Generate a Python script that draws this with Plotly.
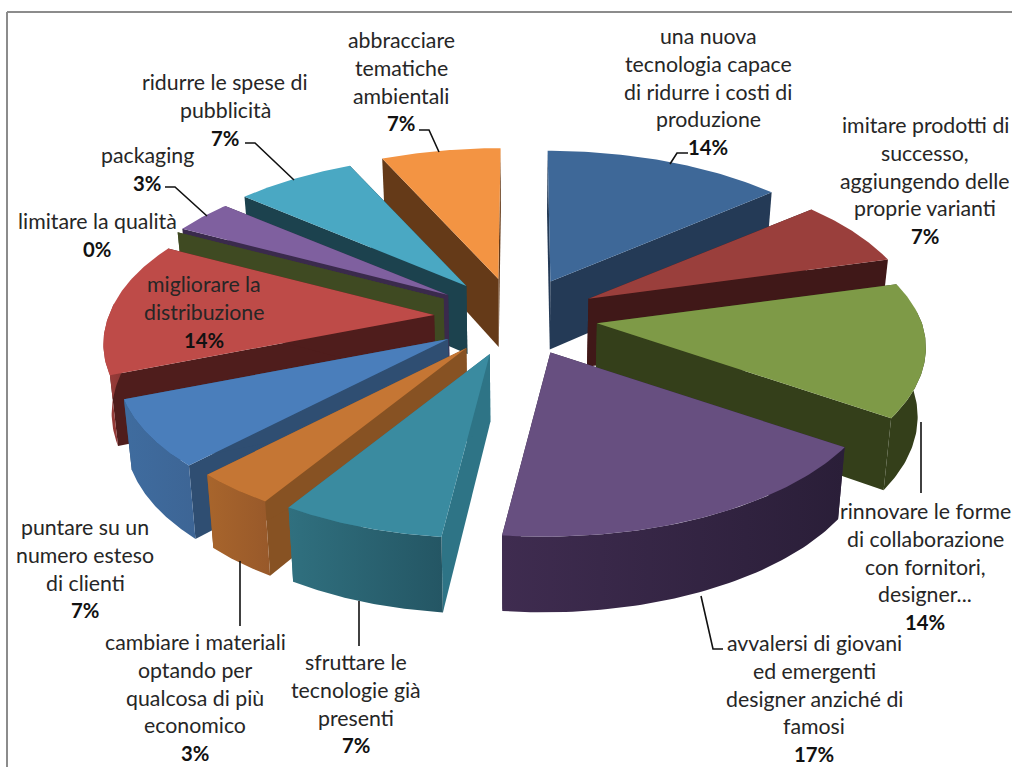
import numpy as np
import plotly.graph_objects as go

# ---- data ----
categories = [
    "una nuova tecnologia capace di ridurre i costi di produzione",
    "imitare prodotti di successo, aggiungendo delle proprie varianti",
    "rinnovare le forme di collaborazione con fornitori, designer...",
    "avvalersi di giovani ed emergenti designer anziché di famosi",
    "sfruttare le tecnologie già presenti",
    "cambiare i materiali optando per qualcosa di più economico",
    "puntare su un numero esteso di clienti",
    "migliorare la distribuzione",
    "limitare la qualità",
    "packaging",
    "ridurre le spese di pubblicità",
    "abbracciare tematiche ambientali",
]
values = [4, 2, 4, 5, 2, 1, 2, 4, 0, 1, 2, 2]
label_lines = [
    ["una nuova", "tecnologia capace", "di ridurre i costi di", "produzione"],
    ["imitare prodotti di", "successo,", "aggiungendo delle", "proprie varianti"],
    ["rinnovare le forme", "di collaborazione", "con fornitori,", "designer..."],
    ["avvalersi di giovani", "ed emergenti", "designer anziché di", "famosi"],
    ["sfruttare le", "tecnologie già", "presenti"],
    ["cambiare i materiali", "optando per", "qualcosa di più", "economico"],
    ["puntare su un", "numero esteso", "di clienti"],
    ["migliorare la", "distribuzione"],
    ["limitare la qualità"],
    ["packaging"],
    ["ridurre le spese di", "pubblicità"],
    ["abbracciare", "tematiche", "ambientali"],
]

# ---- styles ----
top_colors = ["#3E6898", "#9A3F3C", "#7E9A47", "#674F80", "#3A8BA0", "#C57634",
              "#4A7EBB", "#BE4B48", "#7E9A47", "#7F609F", "#4AA8C3", "#F39443"]
cut_colors = ["#243A56", "#401818", "#343F1A", "#32233F", "#2E7486", "#875223",
              "#2F4E72", "#4F1D1C", "#3F4A22", "#3A2A4C", "#1C424E", "#653A18"]
wall_left = ["#243A56", "#401818", "#343F1A", "#3F2C50", "#30707F", "#A8652C",
             "#3F6C9F", "#A03F3C", "#3F4A22", "#4A3860", "#2A6372", "#8A5020"]
wall_right = ["#243A56", "#401818", "#343F1A", "#2A1E38", "#245664", "#98592A",
              "#3D6595", "#8A3634", "#3F4A22", "#3A2A4C", "#1C424E", "#653A18"]
label_pos = [(708, 36), (925, 125), (925, 511), (814, 643), (356, 662), (195, 642),
             (85, 527), (204, 284), (97, 221), (147, 155), (225, 82), (401, 40)]
leaders = [
    ([688, 677, 670], [153, 153, 164]),
    None,
    ([921, 921], [422, 493]),
    ([701, 713, 723], [596, 649, 649]),
    ([359, 359], [601, 646]),
    ([240, 240], [561, 626]),
    None, None, None,
    ([165, 175, 207], [187, 187, 216]),
    ([245, 255, 294], [143, 143, 180]),
    ([419, 429, 439], [130, 130, 152]),
]
FONT = "Lato"
FS = 21.3
LINE_H = 27.8

# ---- projection parameters ----
CX, CY = 516, 317      # pie centre
PX, PY = 82, 39        # explosion distance on screen
A, B = 325, 153        # disc radii
P = 0.17               # perspective strength
T = 68                 # thickness
BX = 0.98              # bottom-face shrink
SHEAR = 30             # leftward drift of the near side


def outline(t, ax, ay, m):
    """Screen position of disc-edge points at angles t (clockwise from top)."""
    u, v = np.sin(t), np.cos(t)
    s = 1 / (1 + P * v)
    lean = (ax - CX) * (np.minimum(s, 1) - 1) * max(np.cos(m), 0) ** 6
    x = ax + lean + A * u * s - SHEAR * np.maximum(s - 1, 0)
    y = ay - B * v * s
    return x, y


def drop(x, y, v):
    """Push a top-face point down to the bottom face."""
    return CX + (x - CX) * BX, y + T / (1 + 0.1 * v)


total = sum(values)
edges = np.concatenate([[0], np.cumsum(values)]) / total * 2 * np.pi
mids = (edges[:-1] + edges[1:]) / 2

fig = go.Figure()


def poly(x, y, color, name, grad=None):
    kw = dict(fillcolor=color)
    if grad:
        kw = dict(fillgradient=dict(type="horizontal",
                                    colorscale=[[0, grad[0]], [1, grad[1]]]))
    fig.add_trace(go.Scatter(x=list(x), y=list(y), mode="lines", fill="toself",
                             line=dict(width=0, color=color), name=name,
                             hoverinfo="skip", showlegend=False, **kw))


order = sorted(range(len(values)), key=lambda i: -np.cos(mids[i]))
for i in order:
    a0, a1, m = edges[i], edges[i + 1], mids[i]
    ax, ay = CX + PX * np.sin(m), CY - PY * np.cos(m)
    name = categories[i]
    # cut faces
    for e in (a0, a1):
        ox, oy = outline(np.array([e]), ax, ay, m)
        bx0, by0 = drop(ax, ay, 0)
        bx1, by1 = drop(ox[0], oy[0], np.cos(e))
        poly([ax, ox[0], bx1, bx0], [ay, oy[0], by1, by0], cut_colors[i], name)
    if values[i] == 0:
        continue
    t = np.linspace(a0, a1, 60)
    # outer wall (front-facing part only)
    tw = t[np.cos(t) <= 0.08]
    if len(tw) > 1:
        wx, wy = outline(tw, ax, ay, m)
        dx, dy = drop(wx, wy, np.cos(tw))
        poly(np.r_[wx, dx[::-1]], np.r_[wy, dy[::-1]], wall_left[i], name,
             grad=(wall_left[i], wall_right[i]))
    # top face
    tx, ty = outline(t, ax, ay, m)
    poly(np.r_[ax, tx], np.r_[ay, ty], top_colors[i], name)

# leader lines
for seg in leaders:
    if seg:
        fig.add_trace(go.Scatter(x=seg[0], y=seg[1], mode="lines",
                                 line=dict(color="#111111", width=1.6),
                                 hoverinfo="skip", showlegend=False))

# labels
ann = []
for lines, v, (lx, ly) in zip(label_lines, values, label_pos):
    for k, txt in enumerate(lines):
        ann.append(dict(x=lx, y=ly + k * LINE_H, text=txt, showarrow=False,
                        xanchor="center", yanchor="middle",
                        font=dict(family=FONT, size=FS, color="#262626")))
    ann.append(dict(x=lx, y=ly + len(lines) * LINE_H,
                    text=f"<b>{round(100 * v / total)}%</b>", showarrow=False,
                    xanchor="center", yanchor="middle",
                    font=dict(family=FONT, size=FS - 1, color="#111111")))

fig.update_layout(
    width=1012, height=767, autosize=False,
    margin=dict(l=0, r=0, t=0, b=0),
    paper_bgcolor="white", plot_bgcolor="white",
    xaxis=dict(range=[0, 1012], visible=False, fixedrange=True),
    yaxis=dict(range=[767, 0], visible=False, fixedrange=True),
    annotations=ann,
    hovermode=False,
    shapes=[
        dict(type="line", x0=7, x1=7, y0=12, y1=767, line=dict(color="#8C8C8C", width=2)),
        dict(type="line", x0=7, x1=1012, y0=12, y1=12, line=dict(color="#8C8C8C", width=2)),
    ],
)
fig.write_html("out.html", config={"displayModeBar": False},
               post_script="document.body.style.margin='0';document.body.style.overflow='hidden';")
